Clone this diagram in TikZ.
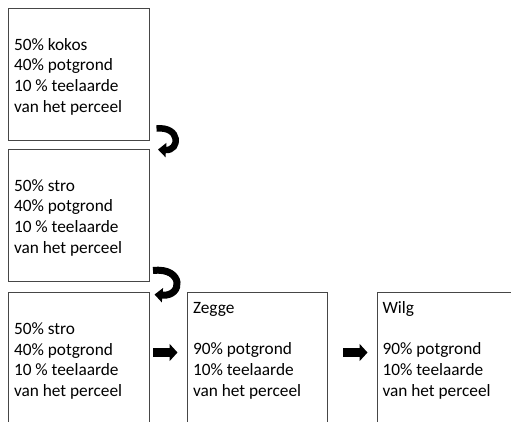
\documentclass[tikz,border=0pt]{standalone}
\usepackage{fontspec}
\setmainfont{Carlito}
\usetikzlibrary{arrows.meta,calc}
\definecolor{boxline}{RGB}{70,70,70}
\begin{document}
\begin{tikzpicture}[x=1pt,y=-1pt,
  box/.style={draw=boxline,line width=0.8pt,inner sep=0pt,outer sep=0pt,anchor=north west,minimum width=141pt},
  txt/.style={anchor=north west,inner sep=0pt,outer sep=0pt,align=left,font=\fontsize{17.3}{20.7}\selectfont},
  uturn/.style={line width=6.5pt,-{Triangle[length=8pt,width=14pt]}},
  block/.style={line width=9pt,-{Triangle[length=8pt,width=17pt]}}]
\useasboundingbox (0,0) rectangle (511,421);
\fill[white] (0,0) rectangle (511,421);
\clip (0,0) rectangle (511,421);
% boxes
\node[box,minimum height=132pt] (b1) at (8,8) {};
\node[box,minimum height=132pt] (b2) at (8,149) {};
\node[box,minimum height=150pt] (b3) at (8,292) {};
\node[box,minimum width=140pt,minimum height=150pt] (b4) at (187,292) {};
\node[box,minimum height=150pt] (b5) at (377,292) {};
% texts
\node[txt] (t1) at ($(b1.north west)+(6,29)$) {\rule{0pt}{13pt}50\% kokos\\40\% potgrond\\10 \% teelaarde\\van het perceel};
\node[txt] (t2) at ($(b2.north west)+(6,29)$) {\rule{0pt}{13pt}50\% stro\\40\% potgrond\\10 \% teelaarde\\van het perceel};
\node[txt] (t3) at ($(b3.north west)+(6,29.3)$) {\rule{0pt}{13pt}50\% stro\\40\% potgrond\\10 \% teelaarde\\van het perceel};
\node[txt] (t4) at ($(b4.north west)+(6,8.5)$) {\rule{0pt}{13pt}Zegge\\[20.7pt]90\% potgrond\\10\% teelaarde\\van het perceel};
\node[txt] (t5) at ($(b5.north west)+(5.5,8.5)$) {\rule{0pt}{13pt}Wilg\\[20.7pt]90\% potgrond\\10\% teelaarde\\van het perceel};
% u-turn arrows
\coordinate (u1s) at (156.5,128.5);
\coordinate (u1e) at (158,149.5);
\draw[uturn] (u1s) .. controls (181,126) and (180,151) .. (u1e);
\coordinate (u2s) at (153,270.5);
\coordinate (u2e) at (154.5,294.5);
\draw[uturn,line width=7pt] (u2s) .. controls (184,267) and (183,297) .. (u2e);
% block arrows
\coordinate (a1s) at (153,352.5);
\coordinate (a1e) at (177.5,352.5);
\draw[block] (a1s) -- (a1e);
\coordinate (a2s) at (343,352.5);
\coordinate (a2e) at (367.5,352.5);
\draw[block] (a2s) -- (a2e);
\end{tikzpicture}
\end{document}
